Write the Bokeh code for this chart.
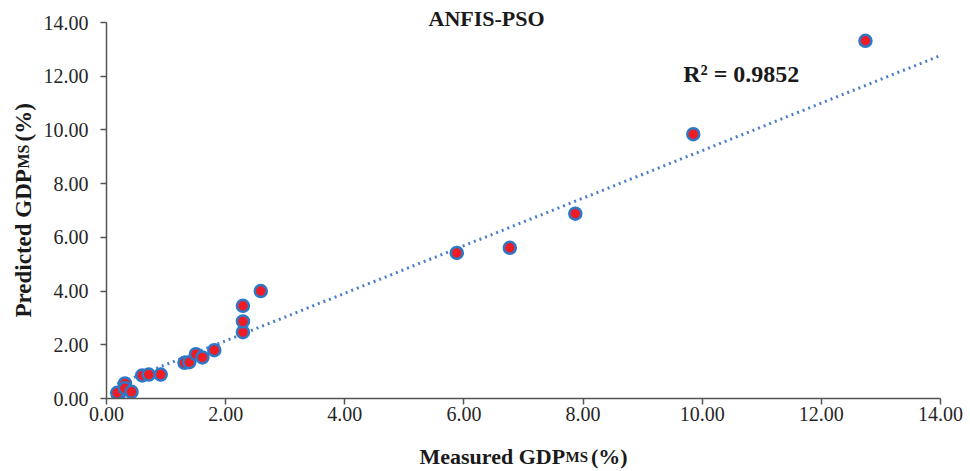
import math
from bokeh.plotting import figure
from bokeh.layouts import row, column
from bokeh.models import Label, SingleIntervalTicker, NumeralTickFormatter, Range1d
from bokeh.embed import file_html
from bokeh.resources import INLINE

# ---- data ----
measured = [0.20, 0.18, 0.31, 0.31, 0.42, 0.60, 0.71, 0.91, 1.31, 1.39, 1.50, 1.61,
            1.81, 2.29, 2.29, 2.29, 2.59, 5.88, 6.77, 7.87, 9.85, 12.74]
predicted = [0.11, 0.21, 0.56, 0.38, 0.25, 0.86, 0.89, 0.89, 1.33, 1.35, 1.65, 1.53,
             1.80, 2.47, 2.87, 3.45, 4.00, 5.42, 5.61, 6.88, 9.84, 13.32]
trend_slope = 0.885
trend_intercept = 0.38
axis_min, axis_max, axis_step = 0.0, 14.0, 2.0
title_text = "ANFIS-PSO"
r2_text = "R² = 0.9852"
x_label_parts = ["Measured GDP", "MS", "(%)"]
y_label_parts = ["Predicted GDP", "MS", "(%)"]

SERIF = "Liberation Serif"
TXT = "#1a1a1a"

# ---- layout geometry (pixels) ----
YLAB_W = 40
MAIN_W, MAIN_H = 930, 440
XLAB_H = 31
FRAME_TOP_PAD = 22          # space between frame top and the 14.00 tick
BORDER_L, BORDER_R, BORDER_B = 64, 30, 42
frame_h = MAIN_H - BORDER_B
px_per_unit = (frame_h - FRAME_TOP_PAD) / (axis_max - axis_min)
y_top = axis_max + FRAME_TOP_PAD / px_per_unit

p = figure(width=MAIN_W, height=MAIN_H, output_backend="svg", toolbar_location=None,
           x_range=Range1d(axis_min, axis_max), y_range=Range1d(axis_min, y_top),
           min_border_left=BORDER_L, min_border_right=BORDER_R, min_border_top=0,
           min_border_bottom=BORDER_B)
p.outline_line_color = None
p.xgrid.visible = False
p.ygrid.visible = False

for ax in (p.xaxis[0], p.yaxis[0]):
    ax.ticker = SingleIntervalTicker(interval=axis_step)
    ax.formatter = NumeralTickFormatter(format="0.00")
    ax.bounds = (axis_min, axis_max)
    ax.minor_tick_line_color = None
    ax.major_tick_in = 0
    ax.major_tick_out = 6
    ax.axis_line_color = "#555555"
    ax.axis_line_width = 1.5
    ax.major_tick_line_color = "#555555"
    ax.major_tick_line_width = 1.5
    ax.major_label_text_font = SERIF
    ax.major_label_text_font_size = "20px"
    ax.major_label_text_color = "#262626"
p.xaxis.major_label_standoff = 2
p.yaxis.major_label_standoff = 12

# trendline (dotted)
tx = [min(measured), axis_max]
ty = [trend_slope * v + trend_intercept for v in tx]
p.line(tx, ty, line_color="#4A7EC8", line_width=3, line_dash="2 4")

# points
p.scatter(measured, predicted, size=12, fill_color="#EE1C25", line_color="#2E78C8",
          line_width=2.5)

# title and R^2 (inside the frame)
p.add_layout(Label(x=6.38, y=axis_max, y_offset=4, text=title_text, text_align="center",
                   text_baseline="alphabetic", text_font=SERIF, text_font_style="bold",
                   text_font_size="22px", text_color=TXT))
p.add_layout(Label(x=9.68, y=11.78, y_offset=8, text=r2_text, text_align="left",
                   text_baseline="alphabetic", text_font=SERIF, text_font_style="bold",
                   text_font_size="24px", text_color=TXT))

# ---- x axis title strip ----
xf = figure(width=MAIN_W, height=XLAB_H, output_backend="svg", toolbar_location=None,
            x_range=p.x_range, y_range=Range1d(0, XLAB_H),
            x_axis_location=None, y_axis_location=None,
            min_border_left=BORDER_L, min_border_right=BORDER_R, min_border_top=0,
            min_border_bottom=0)
xf.outline_line_color = None
xf.xgrid.visible = False
xf.ygrid.visible = False
xc = (axis_min + axis_max) / 2
for txt, off, size in zip(x_label_parts, [-104, 42, 67.5], ["22px", "15px", "22px"]):
    xf.add_layout(Label(x=xc, y=15, x_offset=off, text=txt,
                        text_align="left", text_baseline="alphabetic", text_font=SERIF,
                        text_font_style="bold", text_font_size=size, text_color=TXT))

# ---- y axis title strip ----
total_h = MAIN_H + XLAB_H
yf = figure(width=YLAB_W, height=total_h, output_backend="svg", toolbar_location=None,
            x_range=Range1d(0, YLAB_W), y_range=Range1d(0, total_h),
            x_axis_location=None, y_axis_location=None,
            min_border_left=0, min_border_right=0, min_border_top=0, min_border_bottom=0)
yf.outline_line_color = None
yf.xgrid.visible = False
yf.ygrid.visible = False
frame_center_from_top = FRAME_TOP_PAD + (frame_h - FRAME_TOP_PAD) / 2
yc = total_h - frame_center_from_top
for txt, off, size in zip(y_label_parts, [-107, 42, 69], ["23px", "16px", "23px"]):
    yf.add_layout(Label(x=23, y=yc, y_offset=off, text=txt, angle=math.pi / 2,
                        text_align="left", text_baseline="alphabetic", text_font=SERIF,
                        text_font_style="bold", text_font_size=size, text_color=TXT))

layout = row(yf, column(p, xf))
open("out.html", "w").write(file_html(layout, INLINE))
